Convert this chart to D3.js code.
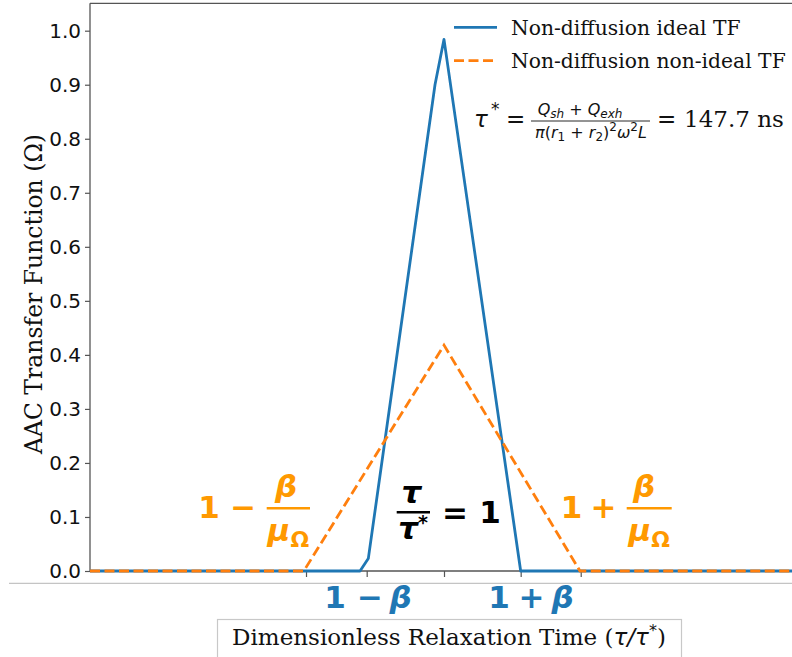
<!DOCTYPE html>
<html><head><meta charset="utf-8">
<script src="https://cdn.jsdelivr.net/npm/d3@7"></script>
<style>body{margin:0;background:#fff}svg{display:block}</style></head>
<body><svg id="c" width="792" height="657"></svg>
<script>
// ---- data ----
const idealX = [0.5, 0.8814, 0.8931, 0.9873, 1.0, 1.1083, 1.5];
const idealY = [0, 0, 0.023, 0.90, 0.984, 0, 0];
const nonIdealX = [0.5, 0.802, 1.0, 1.1921, 1.5];
const nonIdealY = [0, 0, 0.418, 0, 0];
const xTickVals = [0.8051, 0.8908, 1.0, 1.1083, 1.1931];
const yTickVals = [0, 0.1, 0.2, 0.3, 0.4, 0.5, 0.6, 0.7, 0.8, 0.9, 1.0];
const yTickLabels = ["0.0","0.1","0.2","0.3","0.4","0.5","0.6","0.7","0.8","0.9","1.0"];
const seriesNames = ["Non-diffusion ideal TF", "Non-diffusion non-ideal TF"];
const yLabel = "AAC Transfer Function (Ω)";

const BLUE = "#1f77b4", ORANGE = "#ff7f0e", ANN_OR = "#ff9900";
const svg = d3.select("#c");
svg.append("rect").attr("width",792).attr("height",657).attr("fill","#fff");

const L = 90, R = 798, T = 3.3, B = 571;
const x = d3.scaleLinear().domain([0.5, 1.5]).range([L, R]);
const y = d3.scaleLinear().domain([0, 1.0507]).range([B, T]);

// spines
const spine = {stroke:"#555", "stroke-width":1.3};
function ln(x1,y1,x2,y2,st){const l=svg.append("line").attr("x1",x1).attr("y1",y1).attr("x2",x2).attr("y2",y2);for(const k in st)l.attr(k,st[k]);return l;}
ln(L,T,792,T,spine);
ln(L,T,L,B,spine);
ln(L,B,792,B,spine);

// axes
const ya = svg.append("g").attr("transform",`translate(${L},0)`)
  .call(d3.axisLeft(y).tickValues(yTickVals).tickFormat((d,i)=>yTickLabels[i]).tickSize(5).tickPadding(4));
ya.select(".domain").remove();
ya.selectAll("line").attr("stroke","#555").attr("stroke-width",1.2);
ya.selectAll("text").attr("font-family","DejaVu Sans").attr("font-size",20).attr("fill","#111");

const xa = svg.append("g").attr("transform",`translate(0,${B})`)
  .call(d3.axisBottom(x).tickValues(xTickVals).tickFormat("").tickSize(6));
xa.select(".domain").remove();
xa.selectAll("line").attr("stroke","#555").attr("stroke-width",1.2);

// clip
svg.append("clipPath").attr("id","pc").append("rect").attr("x",L).attr("y",T).attr("width",R-L).attr("height",B-T+3);
const line = d3.line().x(d=>x(d[0])).y(d=>y(d[1]));
const g = svg.append("g").attr("clip-path","url(#pc)");
g.append("path").datum(idealX.map((v,i)=>[v,idealY[i]])).attr("d",line)
  .attr("fill","none").attr("stroke",BLUE).attr("stroke-width",2.8).attr("stroke-linejoin","round");
g.append("path").datum(nonIdealX.map((v,i)=>[v,nonIdealY[i]])).attr("d",line)
  .attr("fill","none").attr("stroke",ORANGE).attr("stroke-width",2.8).attr("stroke-dasharray","10,4.5");

// separator line and xlabel box
ln(9,583.3,792,583.3,{stroke:"#c4c4c4","stroke-width":1.3});
svg.append("rect").attr("x",217.5).attr("y",619.5).attr("width",464).attr("height",60)
  .attr("fill","#fff").attr("stroke","#c8c8c8").attr("stroke-width",1.2);
const xl = svg.append("text").attr("x",449).attr("y",645).attr("text-anchor","middle")
  .attr("font-family","DejaVu Serif").attr("font-size",23).attr("fill","#111");
xl.append("tspan").text("Dimensionless Relaxation Time (");
xl.append("tspan").attr("font-family","DejaVu Sans").attr("font-style","italic").text("τ/τ");
xl.append("tspan").attr("font-family","DejaVu Sans").attr("font-size",16).attr("dy",-9).text("*");
xl.append("tspan").attr("dy",9).text(")");

// ylabel
svg.append("text").attr("transform","translate(42,294) rotate(-90)").attr("text-anchor","middle")
  .attr("font-family","DejaVu Serif").attr("font-size",23.5).attr("fill","#111").text(yLabel);

// legend
const legY = [27.3, 60.7];
[BLUE, ORANGE].forEach((c,i)=>{
  const l = ln(454,legY[i],497,legY[i],{stroke:c,"stroke-width":2.8});
  if(i===1) l.attr("stroke-dasharray","10,4.5");
  svg.append("text").attr("x",511).attr("y",legY[i]+7.6).attr("font-family","DejaVu Serif")
    .attr("font-size",20.3).attr("fill","#111").text(seriesNames[i]);
});

// formula
function t(xp,yp,str,o){const e=svg.append("text").attr("x",xp).attr("y",yp).text(str);
  const d={"font-family":"DejaVu Sans","font-size":22,"fill":"#111"};Object.assign(d,o||{});for(const k in d)e.attr(k,d[k]);return e;}
t(474,127,"τ",{"font-style":"italic","font-size":23});
t(491,115,"*",{"font-size":17});
t(506,127,"=",{"font-size":23});
const num = t(580,115,"",{"font-size":16,"text-anchor":"middle","font-style":"italic"});
num.append("tspan").text("Q");
num.append("tspan").attr("font-size",12).attr("dy",3).text("sh");
num.append("tspan").attr("font-style","normal").attr("dy",-3).text(" + ");
num.append("tspan").text("Q");
num.append("tspan").attr("font-size",12).attr("dy",3).text("exh");
ln(531,121,650,121,{stroke:"#111","stroke-width":0.9});
const den = t(591,138,"",{"font-size":16,"text-anchor":"middle","font-style":"italic"});
den.append("tspan").text("π");
den.append("tspan").attr("font-style","normal").text("(");
den.append("tspan").text("r");
den.append("tspan").attr("font-size",12).attr("font-style","normal").attr("dy",3).text("1");
den.append("tspan").attr("font-style","normal").attr("dy",-3).text(" + ");
den.append("tspan").text("r");
den.append("tspan").attr("font-size",12).attr("font-style","normal").attr("dy",3).text("2");
den.append("tspan").attr("font-style","normal").attr("dy",-3).text(")");
den.append("tspan").attr("font-size",12).attr("font-style","normal").attr("dy",-7).text("2");
den.append("tspan").attr("dy",7).text("ω");
den.append("tspan").attr("font-size",12).attr("font-style","normal").attr("dy",-7).text("2");
den.append("tspan").attr("dy",7).text("L");
t(657,127,"=",{"font-size":23});
t(684,127,"147.7 ns",{"font-family":"DejaVu Serif","font-size":23});

// annotations
const AF = {"font-family":"DejaVu Sans","font-weight":"bold","font-size":31,"text-anchor":"middle"};
function a(xp,yp,str,col,extra){return t(xp,yp,str,Object.assign({},AF,{fill:col},extra||{}));}
function frac(cx,x1,x2,col){
  ln(x1,508.3,x2,508.3,{stroke:col,"stroke-width":2.6});
  a(cx,497,"β",col,{"font-style":"italic"});
  const m = t((x1+x2)/2,541,"",Object.assign({},AF,{fill:col}));
  m.append("tspan").attr("font-style","italic").text("μ");
  m.append("tspan").attr("font-size",22).attr("dy",6).text("Ω");
}
// left orange
a(209,518,"1",ANN_OR); a(243.3,518,"−",ANN_OR); frac(286,266.7,310,ANN_OR);
// right orange
a(571.5,518,"1",ANN_OR); a(603.5,518,"+",ANN_OR); frac(644,626.7,671.7,ANN_OR);
// center black
ln(396.7,512.3,430,512.3,{stroke:"#000","stroke-width":2.6});
a(411.5,503,"τ","#000",{"font-style":"italic"});
const dn = t(413,539,"",Object.assign({},AF,{fill:"#000"}));
dn.append("tspan").attr("font-style","italic").text("τ");
dn.append("tspan").attr("font-size",19).attr("dy",-10).text("*");
a(455,523,"=","#000"); a(490,523,"1","#000");
// blue below axis
a(335,608.3,"1",BLUE); a(370,608.3,"−",BLUE); a(400.5,608.3,"β",BLUE,{"font-style":"italic"});
a(499,608.3,"1",BLUE); a(531.5,608.3,"+",BLUE); a(562.5,608.3,"β",BLUE,{"font-style":"italic"});
</script></body></html>
